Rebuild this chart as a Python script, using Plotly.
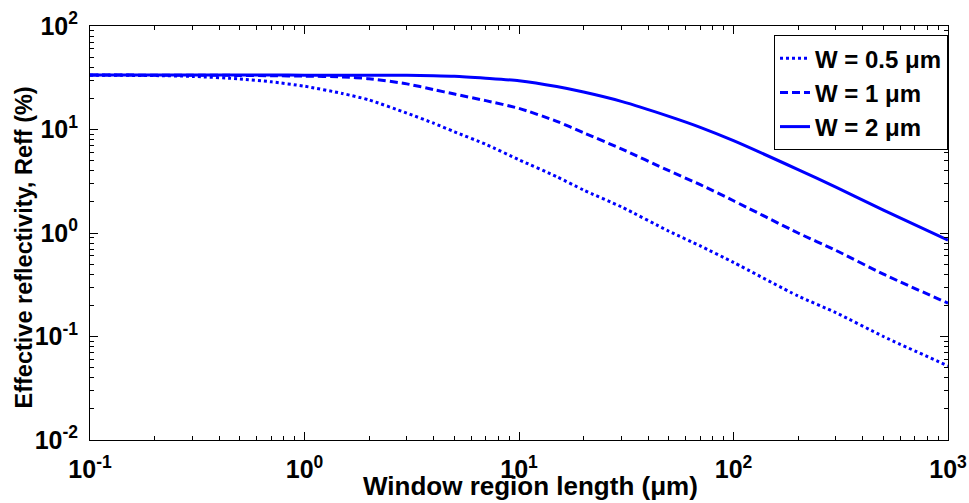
import plotly.graph_objects as go

# Window region length (um)
length_um = [0.1, 0.2, 0.3, 0.5, 0.7, 1, 1.5, 2, 3, 4, 5, 7, 10, 15, 20, 30, 50, 70, 100, 200, 300, 500, 1000]

# Effective reflectivity (%)
reff_w05 = [33.5, 33.2, 32.6, 30.8, 28.9, 26.2, 22.3, 19.3, 14.4, 11.5, 9.5, 7.2, 5.1, 3.5, 2.6, 1.79, 1.04, 0.75, 0.52, 0.246, 0.17, 0.10, 0.052]
reff_w1 = [33.6, 33.5, 33.5, 33.3, 33.1, 32.8, 32.2, 31.0, 27.6, 24.3, 22.0, 19.0, 16.0, 12.0, 9.3, 6.5, 4.0, 2.93, 2.05, 1.0, 0.68, 0.40, 0.21]
reff_w2 = [33.6, 33.6, 33.6, 33.6, 33.6, 33.5, 33.5, 33.5, 33.4, 33.1, 32.7, 31.3, 29.6, 26.0, 23.0, 18.7, 13.4, 10.5, 7.8, 4.1, 2.78, 1.66, 0.855]

series_names = ["W = 0.5 \u03bcm", "W = 1 \u03bcm", "W = 2 \u03bcm"]
series_values = [reff_w05, reff_w1, reff_w2]
series_dash = ["3px,3px", "8px,4px", "solid"]

x_tickvals = [0.1, 1, 10, 100, 1000]
x_ticktext = ["10<sup>-1</sup>", "10<sup>0</sup>", "10<sup>1</sup>", "10<sup>2</sup>", "10<sup>3</sup>"]
y_tickvals = [0.01, 0.1, 1, 10, 100]
y_ticktext = ["10<sup>-2</sup>", "10<sup>-1</sup>", "10<sup>0</sup>", "10<sup>1</sup>", "10<sup>2</sup>"]

x_title = "Window region length (\u03bcm)"
y_title = "Effective reflectivity, Reff (%)"

def minor_vals(lo_exp, hi_exp):
    vals = []
    for e in range(lo_exp, hi_exp):
        for m in range(2, 10):
            vals.append(m * 10 ** e)
    return vals

FONT = "Liberation Sans, Arial, sans-serif"

fig = go.Figure()
for name, vals, dash in zip(series_names, series_values, series_dash):
    fig.add_trace(go.Scatter(
        x=length_um, y=vals, mode="lines", name=name,
        line=dict(color="#0000ff", width=3, dash=dash, shape="spline", smoothing=0.6),
    ))

axis_common = dict(
    type="log", showgrid=False, zeroline=False,
    showline=True, linecolor="black", linewidth=1, mirror="ticks",
    ticks="inside", ticklen=8, tickcolor="black", tickwidth=1,
    tickmode="array",
    tickfont=dict(family=FONT, size=25, color="black", weight="bold"),
)

fig.update_xaxes(
    **axis_common,
    range=[-1, 3], tickvals=x_tickvals, ticktext=x_ticktext,
    minor=dict(ticks="inside", ticklen=4, tickcolor="black", tickvals=minor_vals(-1, 3), showgrid=False),
    ticklabelstandoff=7,
)
fig.update_yaxes(
    **axis_common,
    range=[-2, 2], tickvals=y_tickvals, ticktext=y_ticktext,
    minor=dict(ticks="inside", ticklen=4, tickcolor="black", tickvals=minor_vals(-2, 2), showgrid=False),
    ticklabelstandoff=6,
)

fig.update_layout(
    width=969, height=503,
    margin=dict(l=90, r=21, t=26, b=63, autoexpand=False),
    paper_bgcolor="white", plot_bgcolor="white",
    legend=dict(
        x=1, xanchor="right", y=0.978, yanchor="top",
        bgcolor="white", bordercolor="black", borderwidth=1,
        font=dict(family=FONT, size=24, color="black", weight="bold"),
        itemwidth=30, tracegroupgap=0,
    ),
    showlegend=True,
    annotations=[
        dict(text=x_title, xref="paper", yref="paper", x=0.513, y=-0.111,
             xanchor="center", yanchor="middle", showarrow=False,
             font=dict(family=FONT, size=26, color="black", weight="bold")),
        dict(text=y_title, xref="paper", yref="paper", x=-0.0758, y=0.465,
             xanchor="center", yanchor="middle", showarrow=False, textangle=-90,
             font=dict(family=FONT, size=23.5, color="black", weight="bold")),
    ],
)

fig.write_html("out.html", config={"displayModeBar": False},
               post_script="document.body.style.margin='0px';")
